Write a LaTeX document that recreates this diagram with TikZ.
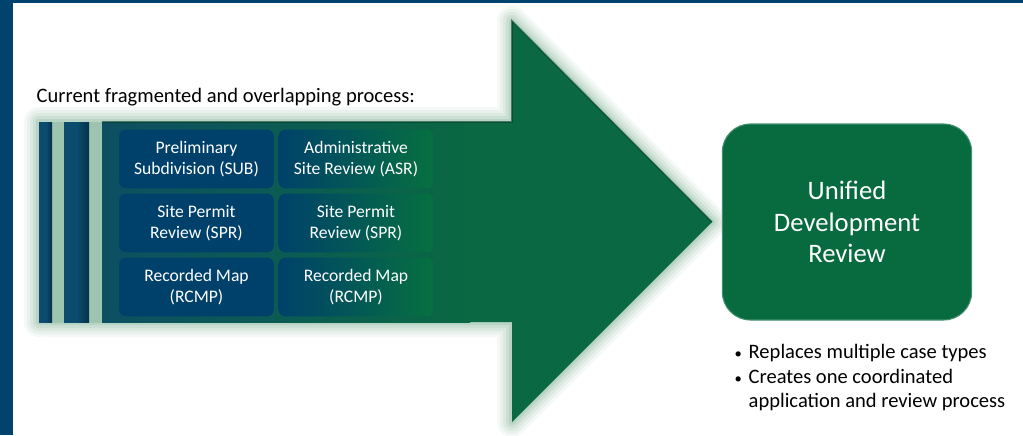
\documentclass[tikz,border=0pt]{standalone}
\usepackage{fontspec}
\setmainfont{Carlito}
\usetikzlibrary{calc}
\definecolor{frameblue}{HTML}{00436E}
\definecolor{stripeblue}{HTML}{0B4C6E}
\definecolor{stripedark}{HTML}{05314A}
\definecolor{bodyteal}{HTML}{0D4F62}
\definecolor{bodygreen}{HTML}{0A6843}
\definecolor{bodydark}{HTML}{063F2A}
\definecolor{glow}{HTML}{9CC4AF}
\definecolor{cellblue}{HTML}{00416B}
\definecolor{cellgreen}{HTML}{067040}
\definecolor{unigreen}{HTML}{076B3F}
\tikzstyle{cell} = [rounded corners=5pt,minimum width=116pt,minimum height=44pt,inner sep=0pt,text=white,align=center,font=\fontsize{13.2}{15.8}\selectfont]
\tikzstyle{stripe} = [left color=stripeblue,right color=stripedark,middle color=stripeblue]
\tikzstyle{unified} = [rounded corners=21pt,fill=unigreen,draw=unigreen!75!white,line width=0.8pt,minimum width=187pt,minimum height=147pt,text=white,align=center,font=\fontsize{20}{23.5}\selectfont]
\newcommand{\smallbul}{{\fontsize{11}{11}\selectfont\textbullet}\hspace{5pt}}

\begin{document}
\begin{tikzpicture}[x=0.75pt,y=-0.75pt]
    \useasboundingbox (0,0) rectangle (1023,435);
    \fill[white] (0,0) rectangle (1023,435);

    % frame
    \fill[frameblue] (0,0) rectangle (1023,3);
    \fill[frameblue] (0,0) rectangle (13,435);

    % the big arrow, with a soft glow round it
    \path[save path=\arrowpath] (39,122) -- (512,122) -- (512,21) -- (712,222)
        -- (512,422) -- (512,322) -- (39,322) -- cycle;
    \foreach \w/\o in {30/0.1,24/0.13,18/0.17,12/0.25,6/0.4} {
        \draw[glow,line width=\w*0.75pt,opacity=\o,line join=round,use path=\arrowpath];
    }
    \fill[bodygreen,use path=\arrowpath];
    \shade[left color=bodyteal,right color=bodygreen] (102,122) rectangle (470,322);
    \draw[bodydark,opacity=0.6,line width=1.2pt] (102,122) -- (512,122) -- (512,21) -- (712,222);

    % stripes at the tail
    \fill[glow] (39,122) rectangle (102,322);
    \shade[stripe] (39,122) rectangle (52,322);
    \shade[stripe] (64,122) rectangle (89,322);

    \node[anchor=west,font=\fontsize{15.4}{18}\selectfont] (title) at (32,97)
        {Current fragmented and overlapping process:};

    % the case types
    \def\colA{196.5}
    \def\colB{356}
    \node[cell,fill=cellblue] (sub)  at (\colA,159) {Preliminary\\Subdivision (SUB)};
    \node[cell,fill=cellblue] (spr)  at (\colA,223) {Site Permit\\Review (SPR)};
    \node[cell,fill=cellblue] (rcmp) at (\colA,287) {Recorded Map\\(RCMP)};
    \node[cell,left color=cellblue,right color=cellgreen] (asr)   at (\colB,159) {Administrative\\Site Review (ASR)};
    \node[cell,left color=cellblue,right color=cellgreen] (spr2)  at (\colB,223) {Site Permit\\Review (SPR)};
    \node[cell,left color=cellblue,right color=cellgreen] (rcmp2) at (\colB,287) {Recorded Map\\(RCMP)};

    % the result
    \node[unified] (udr) at (847,222) {Unified\\Development\\Review};
    \node[anchor=north west,align=left,font=\fontsize{15.4}{18.2}\selectfont] (points) at (730,340)
        {\smallbul Replaces multiple case types\\
         \smallbul Creates one coordinated\\
         \phantom{\smallbul}application and review process};
\end{tikzpicture}
\end{document}
